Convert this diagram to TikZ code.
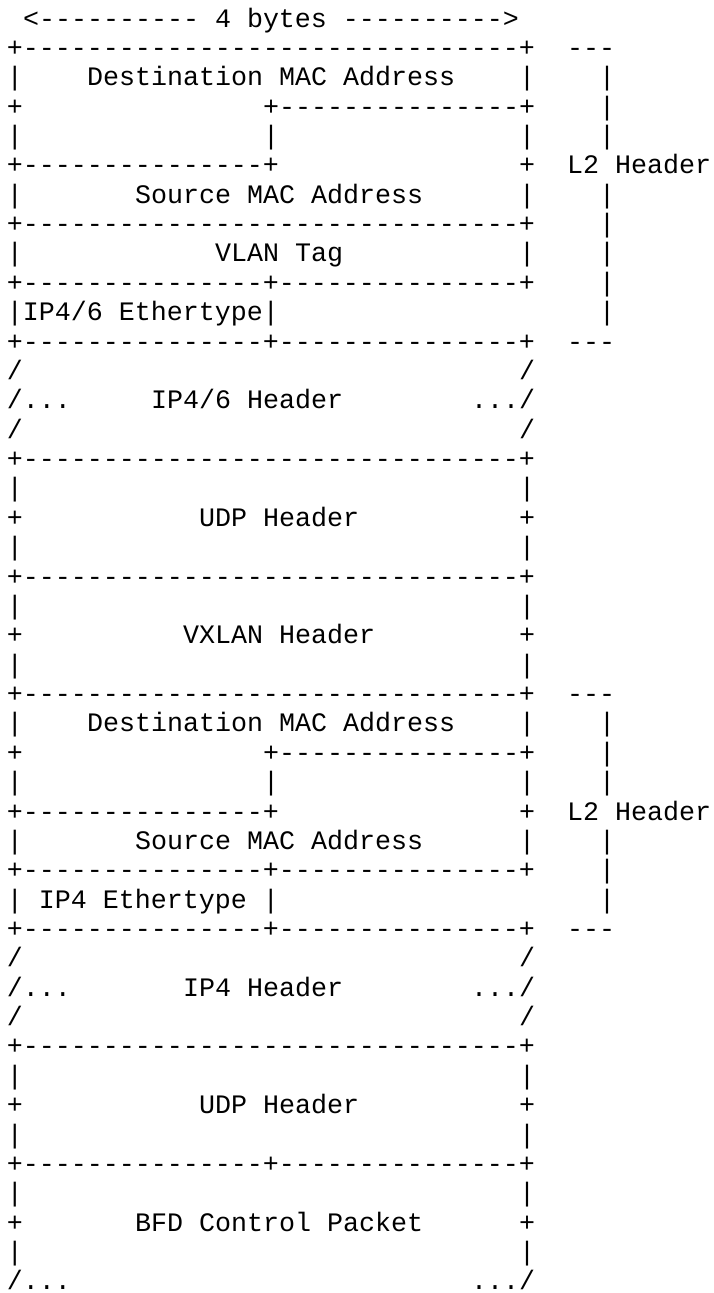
\documentclass[tikz,border=0pt]{standalone}
\usepackage{fontspec}
\setmonofont{Liberation Mono}

% runs of hyphens used by the box rules
\newcommand\dashfive{-----}
\newcommand\dashrun{\dashfive\dashfive\dashfive}
\newcommand\fullrule{+\dashrun-\dashrun+}
\newcommand\splitrule{+\dashrun+\dashrun+}

% one text segment of the layout: row, column, text
\newcommand\seg[3]{\node[asc] (r#1c#2) at ({7+16*#2},{27+29.37*(#1-1)}) {#3};}
\newcommand\sides[1]{\seg{#1}{0}{|}\seg{#1}{32}{|}}
\newcommand\plusses[1]{\seg{#1}{0}{+}\seg{#1}{32}{+}}
\newcommand\bracketbar[1]{\seg{#1}{37}{|}}

\begin{document}
\begin{tikzpicture}[x=0.75pt,y=-0.75pt,
  asc/.style={anchor=base west,inner sep=0pt,outer sep=0pt,
    font=\ttfamily\fontsize{20}{22}\selectfont}]
\useasboundingbox (0,0) rectangle (714,1293);

% outer L2 header
\seg{1}{1}{<\dashfive\dashfive\ 4 bytes \dashfive\dashfive>}
\seg{2}{0}{\fullrule}\seg{2}{35}{---}
\sides{3}\seg{3}{5}{Destination MAC Address}\bracketbar{3}
\seg{4}{0}{+}\seg{4}{16}{+\dashrun+}\bracketbar{4}
\sides{5}\seg{5}{16}{|}\bracketbar{5}
\seg{6}{0}{+\dashrun+}\seg{6}{32}{+}\seg{6}{35}{L2 Header}
\sides{7}\seg{7}{8}{Source MAC Address}\bracketbar{7}
\seg{8}{0}{\fullrule}\bracketbar{8}
\sides{9}\seg{9}{13}{VLAN Tag}\bracketbar{9}
\seg{10}{0}{\splitrule}\bracketbar{10}
\seg{11}{0}{|IP4/6 Ethertype|}\bracketbar{11}
\seg{12}{0}{\splitrule}\seg{12}{35}{---}

% outer IP header
\seg{13}{0}{/}\seg{13}{32}{/}
\seg{14}{0}{/...}\seg{14}{9}{IP4/6 Header}\seg{14}{29}{.../}
\seg{15}{0}{/}\seg{15}{32}{/}

% outer UDP header
\seg{16}{0}{\fullrule}
\sides{17}
\plusses{18}\seg{18}{12}{UDP Header}
\sides{19}
\seg{20}{0}{\fullrule}

% VXLAN header
\sides{21}
\plusses{22}\seg{22}{11}{VXLAN Header}
\sides{23}
\seg{24}{0}{\fullrule}\seg{24}{35}{---}

% inner L2 header
\sides{25}\seg{25}{5}{Destination MAC Address}\bracketbar{25}
\seg{26}{0}{+}\seg{26}{16}{+\dashrun+}\bracketbar{26}
\sides{27}\seg{27}{16}{|}\bracketbar{27}
\seg{28}{0}{+\dashrun+}\seg{28}{32}{+}\seg{28}{35}{L2 Header}
\sides{29}\seg{29}{8}{Source MAC Address}\bracketbar{29}
\seg{30}{0}{\splitrule}\bracketbar{30}
\seg{31}{0}{| IP4 Ethertype |}\bracketbar{31}
\seg{32}{0}{\splitrule}\seg{32}{35}{---}

% inner IP header
\seg{33}{0}{/}\seg{33}{32}{/}
\seg{34}{0}{/...}\seg{34}{11}{IP4 Header}\seg{34}{29}{.../}
\seg{35}{0}{/}\seg{35}{32}{/}

% inner UDP header
\seg{36}{0}{\fullrule}
\sides{37}
\plusses{38}\seg{38}{12}{UDP Header}
\sides{39}
\seg{40}{0}{\splitrule}

% BFD control packet
\sides{41}
\plusses{42}\seg{42}{8}{BFD Control Packet}
\sides{43}
\seg{44}{0}{/...}\seg{44}{29}{.../}
\end{tikzpicture}
\end{document}
